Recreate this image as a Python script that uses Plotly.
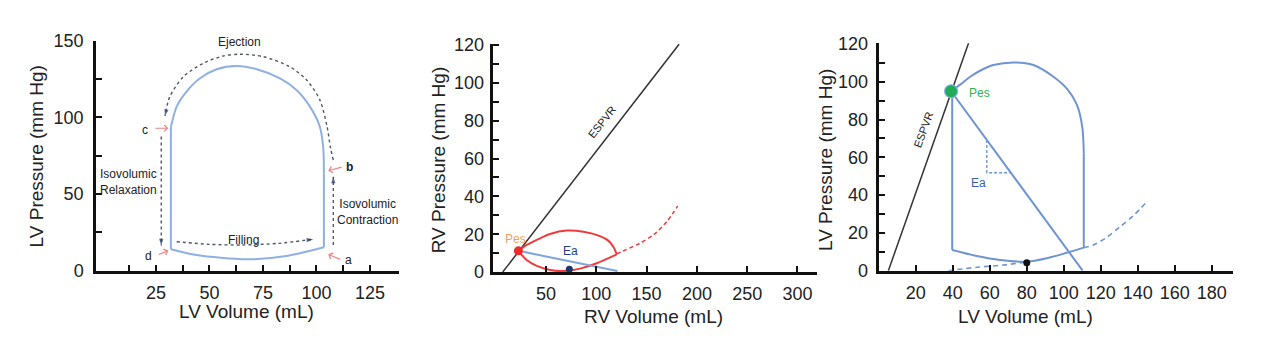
import plotly.graph_objects as go

W, H = 1267, 351
FONT = "Liberation Sans, Arial, sans-serif"

# ---------------- Panel 1 : LV pressure-volume loop ----------------
p1_top_x = [32.0, 34.7, 39.3, 45.6, 53.4, 62.7, 72.1, 83.0, 90.7, 97.0, 101.6, 103.2, 103.5]
p1_top_y = [93.9, 107.0, 116.8, 125.5, 131.4, 133.5, 131.4, 125.5, 117.9, 107.0, 93.9, 80.0, 63.5]
p1_right_x = [103.5, 103.5]
p1_right_y = [63.5, 15.3]
p1_bottom_x = [103.5, 86.0, 67.4, 44.0, 32.0]
p1_bottom_y = [15.3, 9.6, 7.4, 10.2, 14.0]
p1_left_x = [32.0, 32.0]
p1_left_y = [14.0, 93.9]

p1_eject_x = [107.9, 106.6, 105.0, 101.6, 95.4, 87.6, 75.1, 64.3, 56.4, 47.1, 37.8, 31.5, 29.2]
p1_eject_y = [72.2, 80.0, 93.9, 111.4, 124.4, 133.0, 139.6, 141.2, 140.0, 135.3, 126.5, 113.5, 100.9]
p1_relax_x = [27.5, 27.5]
p1_relax_y = [87.5, 16.5]
p1_fill_x = [34.7, 50.0, 65.0, 82.0, 98.5]
p1_fill_y = [18.9, 17.2, 16.8, 17.8, 20.5]
p1_contr_x = [107.9, 107.9]
p1_contr_y = [16.8, 61.3]

p1_pink_names = ["c", "d", "b", "a"]
p1_pink_head_x = [30.8, 30.8, 105.5, 105.5]
p1_pink_head_y = [92.9, 13.1, 65.2, 10.7]
p1_pink_tail_x = [24.0, 25.6, 112.5, 111.8]
p1_pink_tail_y = [92.9, 10.2, 67.8, 7.0]
p1_pink_lab_x = [19.9, 21.7, 115.3, 114.9]
p1_pink_lab_y = [92.0, 9.8, 67.8, 7.0]

p1_text = ["Ejection", "Isovolumic<br>Relaxation", "Filling", "Isovolumic<br>Contraction"]
p1_text_x = [63.9, 12.3, 65.8, 123.9]
p1_text_y = [149.4, 58.0, 20.0, 38.5]

p1_xticks = [25, 50, 75, 100, 125]
p1_xminor = [12.5, 37.5, 62.5, 87.5, 112.5]
p1_yticks = [0, 50, 100, 150]
p1_yminor = [25, 75, 125]

# ---------------- Panel 2 : RV ----------------
p2_espvr_x = [7.0, 182.3]
p2_espvr_y = [0.0, 120.5]
p2_upper_x = [22.5, 30.8, 44.0, 54.0, 70.5, 87.1, 103.7, 111.9, 116.9, 120.3]
p2_upper_y = [11.2, 14.3, 17.8, 20.1, 21.9, 21.3, 19.0, 16.6, 13.4, 9.5]
p2_lower_x = [22.5, 30.8, 40.8, 54.0, 67.2, 83.8, 100.4, 120.3]
p2_lower_y = [11.2, 6.3, 3.2, 1.1, 0.5, 1.8, 4.6, 9.3]
p2_edpvr_x = [120.3, 130.2, 143.4, 156.7, 170.0, 180.9]
p2_edpvr_y = [9.5, 12.0, 15.2, 19.6, 26.6, 34.9]
p2_ea_x = [22.5, 121.0]
p2_ea_y = [11.2, 0.5]
p2_pes_x = [22.5]
p2_pes_y = [11.2]
p2_ed_x = [73.2]
p2_ed_y = [1.4]

p2_xticks = [50, 100, 150, 200, 250, 300]
p2_yticks = [0, 20, 40, 60, 80, 100, 120]
p2_yminor = [10, 30, 50, 70, 90, 110]

# ---------------- Panel 3 : LV ----------------
p3_espvr_x = [5.2, 48.9]
p3_espvr_y = [0.0, 121.5]
p3_top_x = [39.1, 44.0, 49.4, 55.0, 61.9, 72.8, 83.6, 94.4, 102.0, 107.0, 110.0, 110.8]
p3_top_y = [95.0, 98.5, 102.7, 106.0, 108.9, 110.3, 108.9, 102.7, 96.0, 88.0, 76.0, 62.0]
p3_right_x = [110.8, 110.8]
p3_right_y = [62.0, 12.2]
p3_bottom_x = [110.8, 101.6, 90.8, 80.0, 65.6, 53.0, 39.7]
p3_bottom_y = [12.2, 9.5, 6.6, 4.8, 5.7, 7.8, 11.0]
p3_left_x = [39.7, 39.7]
p3_left_y = [11.0, 95.0]
p3_edpvr_lo_x = [37.6, 53.0, 67.4, 80.0]
p3_edpvr_lo_y = [0.0, 1.8, 3.0, 4.6]
p3_edpvr_hi_x = [110.8, 116.0, 123.0, 130.4, 138.0, 144.9]
p3_edpvr_hi_y = [12.2, 13.6, 17.5, 23.3, 29.5, 36.5]
p3_ea_x = [39.1, 110.2]
p3_ea_y = [95.0, 0.0]
p3_tri_x = [58.4, 58.4, 71.4]
p3_tri_y = [69.2, 51.9, 51.9]
p3_pes_x = [39.1]
p3_pes_y = [95.0]
p3_ed_x = [80.0]
p3_ed_y = [4.2]

p3_xticks = [20, 40, 60, 80, 100, 120, 140, 160, 180]
p3_yticks = [0, 20, 40, 60, 80, 100, 120]
p3_yminor = [10, 30, 50, 70, 90, 110]

# ---------------- figure ----------------
fig = go.Figure()

LOOP1 = "#8eb0e2"
DOT = "#505868"
HEAD = "#1f3564"


def line(x, y, xa, ya, color, width=2, dash="solid", shape="spline", smoothing=0.8):
    ln = dict(color=color, width=width, dash=dash, shape=shape)
    if shape == "spline":
        ln["smoothing"] = smoothing
    fig.add_trace(go.Scatter(x=x, y=y, xaxis=xa, yaxis=ya, mode="lines", line=ln,
                             hoverinfo="skip", showlegend=False))


def arrow_head(x, y, xa, ya, color):
    fig.add_trace(go.Scatter(x=x[-2:], y=y[-2:], xaxis=xa, yaxis=ya, mode="markers",
                             marker=dict(symbol="arrow", angleref="previous", size=[0, 7],
                                         color=color, line=dict(width=0)),
                             hoverinfo="skip", showlegend=False))


# panel 1
for sx, sy in [(p1_top_x, p1_top_y), (p1_right_x, p1_right_y),
               (p1_bottom_x, p1_bottom_y), (p1_left_x, p1_left_y)]:
    line(sx, sy, "x", "y", LOOP1, 2)
for sx, sy in [(p1_eject_x, p1_eject_y), (p1_relax_x, p1_relax_y),
               (p1_fill_x, p1_fill_y), (p1_contr_x, p1_contr_y)]:
    line(sx, sy, "x", "y", DOT, 1.4, "dot")
    arrow_head(sx, sy, "x", "y", HEAD)

# panel 2
line(p2_espvr_x, p2_espvr_y, "x2", "y2", "#333333", 1.5, shape="linear")
line(p2_upper_x, p2_upper_y, "x2", "y2", "#ee3b3b", 2)
line(p2_lower_x, p2_lower_y, "x2", "y2", "#ee3b3b", 2)
line(p2_edpvr_x, p2_edpvr_y, "x2", "y2", "#ee3b3b", 1.5, "4px,3px")
line(p2_ea_x, p2_ea_y, "x2", "y2", "#7ea5dc", 2, shape="linear")
fig.add_trace(go.Scatter(x=p2_pes_x, y=p2_pes_y, xaxis="x2", yaxis="y2", mode="markers",
                         marker=dict(size=9, color="#ee2a2a"), hoverinfo="skip", showlegend=False))
fig.add_trace(go.Scatter(x=p2_ed_x, y=p2_ed_y, xaxis="x2", yaxis="y2", mode="markers",
                         marker=dict(size=7, color="#1c3567"), hoverinfo="skip", showlegend=False))

# panel 3
LOOP3 = "#6f94d2"
line(p3_espvr_x, p3_espvr_y, "x3", "y3", "#333333", 1.5, shape="linear")
for sx, sy in [(p3_top_x, p3_top_y), (p3_right_x, p3_right_y),
               (p3_bottom_x, p3_bottom_y), (p3_left_x, p3_left_y)]:
    line(sx, sy, "x3", "y3", LOOP3, 2)
line(p3_edpvr_lo_x, p3_edpvr_lo_y, "x3", "y3", LOOP3, 1.6, "5px,4px")
line(p3_edpvr_hi_x, p3_edpvr_hi_y, "x3", "y3", LOOP3, 1.6, "5px,4px")
line(p3_ea_x, p3_ea_y, "x3", "y3", LOOP3, 2, shape="linear")
line(p3_tri_x, p3_tri_y, "x3", "y3", LOOP3, 1.4, "3px,2px", shape="linear")
fig.add_trace(go.Scatter(x=p3_pes_x, y=p3_pes_y, xaxis="x3", yaxis="y3", mode="markers",
                         marker=dict(size=13, color="#1fab57", line=dict(color="#8fb0e0", width=1.2)),
                         hoverinfo="skip", showlegend=False))
fig.add_trace(go.Scatter(x=p3_ed_x, y=p3_ed_y, xaxis="x3", yaxis="y3", mode="markers",
                         marker=dict(size=7, color="#111111"), hoverinfo="skip", showlegend=False))


def axis(domain, rng, tickvals, minor_vals, anchor, standoff):
    d = dict(domain=domain, range=rng, anchor=anchor, showline=True, linewidth=2.5,
             linecolor="#111111", ticks="inside", ticklen=6, tickwidth=2, tickcolor="#111111",
             tickmode="array", tickvals=tickvals, ticktext=[str(v) for v in tickvals],
             showgrid=False, zeroline=False, fixedrange=True, ticklabelstandoff=standoff,
             automargin=False,
             tickfont=dict(size=18, color="#222222", family=FONT))
    if minor_vals:
        d["minor"] = dict(tickmode="array", tickvals=minor_vals, ticks="inside", ticklen=6,
                          tickwidth=2, tickcolor="#111111", showgrid=False)
    return d


def xd(a, b):
    return [a / W, b / W]


def yd(bottom_px, top_px):
    return [1 - bottom_px / H, 1 - top_px / H]


fig.update_layout(
    width=W, height=H, autosize=False,
    margin=dict(l=0, r=0, t=0, b=0, pad=0, autoexpand=False),
    paper_bgcolor="white", plot_bgcolor="white",
    font=dict(family=FONT, color="#222222"),
    xaxis=axis(xd(96, 399), [-3, 138.6], p1_xticks, p1_xminor, "y", 4),
    yaxis=axis(yd(270.7, 40.7), [0, 150], p1_yticks, p1_yminor, "x", 6),
    xaxis2=axis(xd(493.3, 816.7), [-2.4, 319.1], p2_xticks, None, "y2", 4),
    yaxis2=axis(yd(272, 44), [0, 120.6], p2_yticks, p2_yminor, "x2", 3),
    xaxis3=axis(xd(879.3, 1233.3), [0.3, 191.6], p3_xticks, None, "y3", 4),
    yaxis3=axis(yd(270.7, 43.3), [0, 120.4], p3_yticks, p3_yminor, "x3", 5),
)

ann = []
# axis titles
titles = [
    ("LV Volume (mL)", 246.7, 311.7, 0), ("LV Pressure (mm Hg)", 36.7, 156.7, -90),
    ("RV Volume (mL)", 653.3, 316.7, 0), ("RV Pressure (mm Hg)", 438.3, 160, -90),
    ("LV Volume (mL)", 1025, 316.7, 0), ("LV Pressure (mm Hg)", 825, 160, -90),
]
for t, px, py, ang in titles:
    ann.append(dict(text=t, xref="paper", yref="paper", x=px / W, y=1 - py / H,
                    xanchor="center", yanchor="middle", showarrow=False, textangle=ang,
                    font=dict(size=19, color="#222222", family=FONT)))

# panel 1 texts
for t, x, y in zip(p1_text, p1_text_x, p1_text_y):
    ann.append(dict(text=t, x=x, y=y, xref="x", yref="y", showarrow=False,
                    xanchor="center", yanchor="middle",
                    font=dict(size=12, color="#222222", family=FONT)))
for n, hx, hy, tx, ty, lx, ly in zip(p1_pink_names, p1_pink_head_x, p1_pink_head_y,
                                     p1_pink_tail_x, p1_pink_tail_y, p1_pink_lab_x, p1_pink_lab_y):
    ann.append(dict(text="", x=hx, y=hy, ax=tx, ay=ty, xref="x", yref="y", axref="x", ayref="y",
                    showarrow=True, arrowhead=4, arrowsize=1, arrowwidth=1.2,
                    arrowcolor="#f08484", standoff=0, startstandoff=0))
    ann.append(dict(text=("<b>%s</b>" % n) if n == "b" else n, x=lx, y=ly, xref="x", yref="y",
                    showarrow=False, xanchor="center", yanchor="middle",
                    font=dict(size=12, color="#222222", family=FONT)))

# panel 2 texts
ann.append(dict(text="ESPVR", x=105.4, y=79.5, xref="x2", yref="y2", showarrow=False,
                textangle=-52, font=dict(size=11, color="#222222", family=FONT)))
ann.append(dict(text="Pes", x=19.2, y=17.5, xref="x2", yref="y2", showarrow=False,
                font=dict(size=12, color="#f5a05a", family=FONT)))
ann.append(dict(text="Ea", x=74.5, y=11.1, xref="x2", yref="y2", showarrow=False,
                font=dict(size=12, color="#1f3d8a", family=FONT)))

# panel 3 texts
ann.append(dict(text="ESPVR", x=24.1, y=74.5, xref="x3", yref="y3", showarrow=False,
                textangle=-70, font=dict(size=11, color="#222222", family=FONT)))
ann.append(dict(text="Pes", x=54.2, y=94.2, xref="x3", yref="y3", showarrow=False,
                font=dict(size=12, color="#2db34a", family=FONT)))
ann.append(dict(text="Ea", x=53.8, y=46.6, xref="x3", yref="y3", showarrow=False,
                font=dict(size=12, color="#3a5fb0", family=FONT)))

fig.update_layout(annotations=ann)
fig.write_html("out.html")
